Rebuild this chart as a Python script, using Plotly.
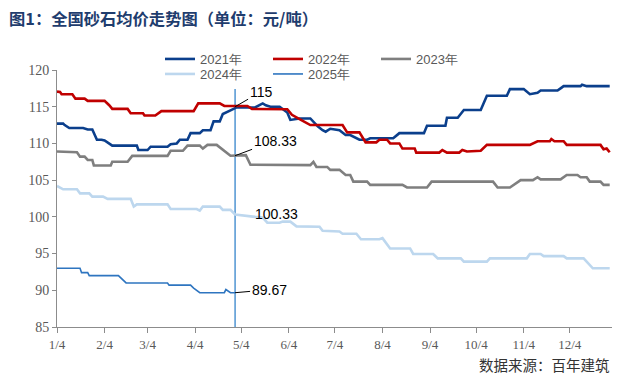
import plotly.graph_objects as go

YEAR = "2023"  # common (non-leap) base year for the month/day axis

# ---- data (month-day, value) ----
d2021 = ["01-04","01-08","01-09","01-12","01-21","01-24","01-27","01-30","02-02","02-04","02-09","02-25",
         "02-26","03-04","03-06","03-17","03-19","03-23","03-25","03-30","04-01","04-07","04-09","04-14",
         "04-16","04-20","04-22","04-25","04-29","05-01","05-13","05-18","05-20","05-23","05-29","06-03",
         "06-05","06-11","06-18","06-23","06-26","06-28","07-01","07-07","07-11","07-14","07-20","07-25",
         "07-27","08-11","08-15","08-31","09-02","09-14","09-15","09-22","09-26","10-07","10-11","10-24",
         "10-26","11-04","11-08","11-13","11-15","11-26","11-28","11-30","12-11","12-12","12-15","12-30"]
v2021 = [112.7,112.7,112.5,112.1,112.1,111.9,111.9,110.5,110.5,110.4,109.7,109.7,
         109.1,109.1,109.55,109.55,109.9,110.0,110.5,110.5,111.4,111.4,111.8,111.8,
         113.0,113.0,114.0,114.3,114.8,114.9,114.9,115.45,115.2,115.0,115.0,114.2,
         113.2,113.4,113.4,112.3,111.8,111.6,112.0,111.8,111.15,111.15,110.5,110.5,
         110.7,110.7,111.4,111.4,112.4,112.4,113.5,113.5,114.55,114.55,116.5,116.5,
         117.4,117.4,116.7,116.9,117.2,117.2,117.5,117.8,117.8,118.0,117.8,117.8]

d2022 = ["01-04","01-06","01-07","01-14","01-16","01-22","01-24","02-04","02-07","02-09","02-19","02-21",
         "03-01","03-02","03-09","03-11","03-13","04-03","04-06","04-20","04-23","05-08","05-11","06-03",
         "06-06","06-11","06-18","07-09","07-12","07-20","07-24","07-31","08-02","08-07","08-09","08-15",
         "08-17","08-25","08-26","09-10","09-12","09-15","09-23","09-25","09-28","10-07","10-11","11-08",
         "11-13","11-21","11-22","11-24","11-30","12-02","12-24","12-26","12-28","12-30"]
v2022 = [117.05,117.0,116.7,116.7,116.1,116.1,115.8,115.8,115.2,114.7,114.7,114.1,
         114.1,113.8,113.8,114.1,114.4,114.4,115.45,115.45,115.1,115.1,114.7,114.65,
         113.9,113.3,112.5,112.5,111.5,111.5,110.15,110.15,110.5,110.5,110.0,110.0,
         109.3,109.3,108.75,108.75,109.1,108.75,108.75,109.1,108.9,109.0,109.8,109.8,
         110.3,110.3,110.6,110.3,110.3,109.8,109.8,109.2,109.3,108.8]

d2023 = ["01-04","01-09","01-12","01-17","01-19","01-22","01-24","01-27","01-28","02-08","02-09","02-19",
         "02-22","03-17","03-19","03-27","03-30","04-07","04-09","04-12","04-18","04-22","04-27","05-07",
         "05-10","06-18","06-20","06-22","06-29","07-01","07-07","07-11","07-14","07-16","07-25","07-27",
         "08-17","08-20","09-02","09-05","10-15","10-18","10-26","11-02","11-10","11-13","11-15","11-28",
         "12-02","12-09","12-11","12-15","12-17","12-24","12-26","12-30"]
v2023 = [108.9,108.9,108.8,108.8,108.2,108.2,107.75,107.75,107.0,107.0,107.5,107.5,
         108.3,108.3,109.0,109.0,109.7,109.7,109.3,109.8,109.8,109.1,108.33,108.4,
         107.1,107.05,107.5,106.8,106.8,106.4,106.4,105.7,105.7,104.8,104.8,104.35,
         104.35,104.0,104.0,104.8,104.8,104.0,104.0,105.0,105.0,105.4,105.1,105.1,
         105.7,105.7,105.4,105.4,104.8,104.8,104.35,104.35]

d2024 = ["01-04","01-08","01-17","01-19","01-25","01-27","02-03","02-06","02-21","02-23","02-25","03-17",
         "03-19","04-05","04-07","04-09","04-20","04-22","04-27","04-30","05-13","05-18","05-21","05-29",
         "05-31","06-05","06-09","06-24","06-26","07-07","07-09","07-18","07-21","08-02","08-04","08-09",
         "08-22","08-24","09-06","09-09","09-24","09-26","10-11","10-13","11-06","11-08","11-15","11-17",
         "11-30","12-02","12-13","12-19","12-30"]
v2024 = [104.2,103.75,103.75,103.2,103.2,102.75,102.75,102.45,102.45,101.4,101.7,101.7,
         101.07,101.07,100.85,101.4,101.4,100.95,100.95,100.33,100.0,99.9,99.2,99.2,
         99.35,99.35,98.7,98.66,98.1,98.0,97.7,97.7,96.95,96.95,97.1,95.7,
         95.7,94.95,94.95,94.35,94.35,93.9,93.9,94.35,94.35,94.95,94.95,94.65,
         94.65,94.35,94.35,93.0,93.0]

d2025 = ["01-04","01-19","01-20","01-24","01-25","02-13","02-18","03-17","03-18","04-01","04-03","04-07",
         "04-23","04-24","04-27","04-30"]
v2025 = [93.0,93.0,92.4,92.4,92.0,92.0,91.0,91.0,90.7,90.7,90.3,89.67,
         89.67,90.1,89.67,89.67]

series_names = ["2021年", "2022年", "2023年", "2024年", "2025年"]
series_dates = [d2021, d2022, d2023, d2024, d2025]
series_vals = [v2021, v2022, v2023, v2024, v2025]

# values labelled at the latest 2025 date
label_values = [115, 108.33, 100.33, 89.67]
label_texts = ["115", "108.33", "100.33", "89.67"]

tick_dates = ["01-04","02-04","03-04","04-04","05-04","06-04","07-04","08-04","09-04","10-04","11-04","12-04"]
tick_labels = ["1/4","2/4","3/4","4/4","5/4","6/4","7/4","8/4","9/4","10/4","11/4","12/4"]
y_ticks = [85, 90, 95, 100, 105, 110, 115, 120]

# ---- styles ----
colors = ["#0b3f8c", "#c00000", "#7f7f7f", "#bdd7ee", "#2e75c0"]
widths = [2.6, 2.6, 2.6, 2.6, 1.6]
legend_ids = ["legend", "legend", "legend", "legend2", "legend2"]
marker_color = "#5b9bd5"
marker_top = 117.4

def X(md):
    return f"{YEAR}-{md}"

fig = go.Figure()

last_x = X(d2025[-1])
fig.add_trace(go.Scatter(x=[last_x, last_x], y=[y_ticks[0], marker_top], mode="lines",
                         line=dict(color=marker_color, width=1.6), showlegend=False, hoverinfo="skip"))

for name, ds, vs, c, w, lg in zip(series_names, series_dates, series_vals, colors, widths, legend_ids):
    assert len(ds) == len(vs), name
    fig.add_trace(go.Scatter(x=[X(d) for d in ds], y=vs, mode="lines", name=name,
                             line=dict(color=c, width=w), legend=lg))

# annotations at last 2025 date
offsets = [(26, -15, True), (40, -15, True), (41, 0, False), (34, -3, True)]
for val, txt, (ax, ay, arrow) in zip(label_values, label_texts, offsets):
    if arrow:
        fig.add_annotation(x=last_x, y=val, text=txt, showarrow=True, ax=ax, ay=ay,
                           arrowhead=0, arrowwidth=1, arrowcolor="#000000",
                           font=dict(family="Liberation Sans", size=14, color="#000000"))
    else:
        fig.add_annotation(x=last_x, y=val, text=txt, showarrow=False, xanchor="center",
                           xshift=ax, font=dict(family="Liberation Sans", size=14, color="#000000"))

# title and source
fig.add_annotation(text="<b>图1：全国砂石均价走势图（单位：元/吨）</b>", xref="paper", yref="paper",
                   x=-50/555, y=1 + 52/257, xanchor="left", yanchor="middle", showarrow=False,
                   font=dict(family="Noto Sans CJK SC", size=16.3, color="#1f3d6e"))
fig.add_annotation(text="数据来源：百年建筑", xref="paper", yref="paper",
                   x=1, y=-37/257, xanchor="right", yanchor="middle", showarrow=False,
                   font=dict(family="Noto Sans CJK SC", size=14.5, color="#333333"))

axis_color = "#8c8c8c"
fig.update_layout(
    width=618, height=385,
    margin=dict(l=57, r=6, t=70, b=58),
    paper_bgcolor="white", plot_bgcolor="white",
    font=dict(family="Liberation Sans", color="#595959"),
    xaxis=dict(range=[X("01-04"), X("12-31") + " 12:00"], tickvals=[X(d) for d in tick_dates],
               ticktext=tick_labels, showgrid=False, zeroline=False, showline=True,
               linecolor=axis_color, linewidth=1, ticks="outside", ticklen=5, tickcolor=axis_color,
               tickfont=dict(family="Liberation Serif", size=13, color="#595959")),
    yaxis=dict(range=[85, 120], tickvals=y_ticks, showgrid=False, zeroline=False, showline=True,
               linecolor=axis_color, linewidth=1, ticks="outside", ticklen=4, tickcolor=axis_color,
               tickfont=dict(family="Liberation Serif", size=14, color="#595959")),
    legend=dict(orientation="h", x=(160-57)/555, y=1 + 26/257, xanchor="left", yanchor="top",
                entrywidth=63, entrywidthmode="pixels", bgcolor="rgba(0,0,0,0)",
                font=dict(family="Liberation Sans", size=13, color="#595959"), tracegroupgap=0),
    legend2=dict(orientation="h", x=(160-57)/555, y=1 + 11/257, xanchor="left", yanchor="top",
                 entrywidth=63, entrywidthmode="pixels", bgcolor="rgba(0,0,0,0)",
                 font=dict(family="Liberation Sans", size=13, color="#595959"), tracegroupgap=0),
    showlegend=True,
)

fig.write_html("out.html", config={"displayModeBar": False},
               post_script="document.body.style.margin='0';")
